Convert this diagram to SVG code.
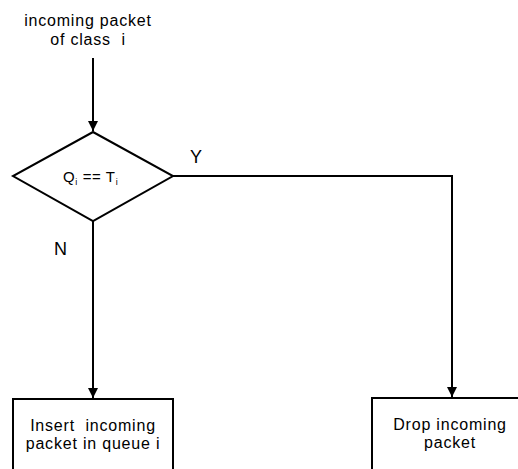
<svg xmlns="http://www.w3.org/2000/svg" width="518" height="469" viewBox="0 0 518 469">
<style>
text{font-family:"Liberation Sans",Arial,sans-serif;fill:#000;white-space:pre}
.t{font-size:16px;letter-spacing:0.8px;text-anchor:middle}
.yn{font-size:18px}
.s{fill:#fff;stroke:#000;stroke-width:2}
.c{fill:none;stroke:#000;stroke-width:2}
</style>
<defs>
<marker id="a" viewBox="0 0 10 10" refX="10" refY="5" markerWidth="10" markerHeight="10" orient="auto" markerUnits="userSpaceOnUse">
<path d="M0,0 L10,5 L0,10 z" fill="#000"/>
</marker>
</defs>
<g id="start"><text class="t" x="88" y="26">incoming packet</text><text class="t" x="88" y="45" xml:space="preserve">of class  i</text></g>
<g id="connectors">
<line class="c" x1="93" y1="58" x2="93" y2="131" marker-end="url(#a)"/>
<line class="c" x1="93" y1="221" x2="93" y2="398" marker-end="url(#a)"/>
<polyline class="c" points="173,176 452,176 452,397" marker-end="url(#a)"/>
<text class="yn" x="190" y="163">Y</text>
<text class="yn" x="54" y="255">N</text>
</g>
<g id="decision"><polygon class="s" points="93,132 173,176 93,221 13,176"/>
<text x="63" y="182" font-size="15" letter-spacing="0.6" xml:space="preserve">Q<tspan font-size="9" dy="3">i</tspan><tspan dy="-3"> == T</tspan><tspan font-size="9" dy="3">i</tspan></text></g>
<g id="insert"><rect class="s" x="13" y="399" width="160" height="80"/><text class="t" x="93" y="431" xml:space="preserve">Insert  incoming</text><text class="t" x="93" y="449">packet in queue i</text></g>
<g id="drop"><rect class="s" x="372" y="398" width="160" height="80"/><text class="t" x="450" y="430">Drop incoming</text><text class="t" x="450" y="448">packet</text></g>
</svg>
